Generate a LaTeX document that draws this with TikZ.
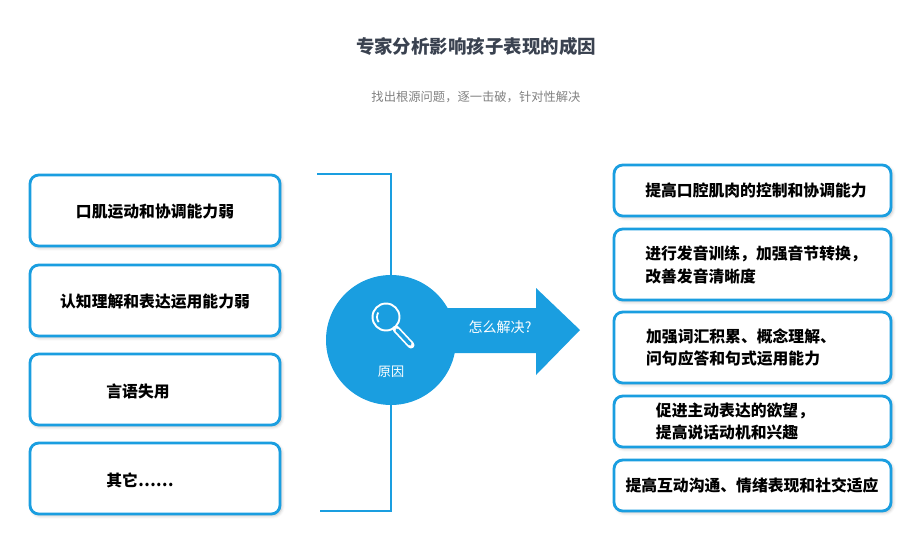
\documentclass[tikz,border=0pt]{standalone}
\usepackage{fontspec}
\newfontfamily\cjk{Noto Sans CJK SC}
\usetikzlibrary{calc,shadows.blur}
\definecolor{cyanblue}{HTML}{1A9EE0}
\definecolor{titlegray}{HTML}{3A4250}
\tikzset{
	cause/.style={draw=cyanblue, line width=1.6pt, rounded corners=5pt, fill=white,
			blur shadow={shadow blur steps=4, shadow xshift=1pt, shadow yshift=-1pt, shadow opacity=25}},
	remedy/.style={cause},
	link/.style={draw=cyanblue, line width=1.3pt}
}

\begin{document}
\begin{tikzpicture}[x=0.02cm, y=-0.02cm]
			\useasboundingbox (0,0) rectangle (900,542);

			\node[font=\cjk\bfseries\fontsize{10.5}{12}\selectfont, text=titlegray] (title) at (476,46) {专家分析影响孩子表现的成因};
			\node[font=\cjk\fontsize{7}{8}\selectfont, text=gray] (sub) at (476,97) {找出根源问题，逐一击破，针对性解决};

			% left causes
			\foreach \name/\xx/\yy/\txt in {c1/155/175/口肌运动和协调能力弱, c2/155/265/认知理解和表达运用能力弱, c3/138/354/言语失用, c4/140/443/其它……} {
				\draw[cause] (30,\yy) rectangle (280,\yy+71);
				\node[font=\cjk\bfseries\fontsize{9}{11}\selectfont] (\name) at (\xx,\yy+37) {\txt};
			}

			% right remedies
			\foreach \name/\xx/\ya/\yb/\txt in {r1/756/165/216/提高口腔肌肉的控制和协调能力,
					r2/756/229/300/{进行发音训练，加强音节转换，\\改善发音清晰度},
					r3/741/312/383/{加强词汇积累、概念理解、\\问句应答和句式运用能力},
					r4/735/396/447/{促进主动表达的欲望，\\提高说话动机和兴趣},
					r5/752/460/511/提高互动沟通、情绪表现和社交适应} {
				\draw[remedy] (614,\ya) rectangle (891,\yb);
				\node[font=\cjk\bfseries\fontsize{9}{13}\selectfont, align=left] (\name) at (\xx,{(\ya+\yb)/2}) {\txt};
			}

			% bracket
			\coordinate (btop) at (317,174);
			\coordinate (bbot) at (320,511);
			\draw[link] (btop) -- (391,174) -- (391,511) -- (bbot);

			% arrow and circle
			\fill[cyanblue] (420,308) -- (536,308) -- (536,288) -- (580,330) -- (536,375) -- (536,353) -- (420,353) -- cycle;
			\node[circle, fill=cyanblue, minimum size=2.6cm, inner sep=0pt] (why) at (391,340) {};
			\node[text=white, font=\cjk\fontsize{8}{9}\selectfont] (how) at (500,327) {怎么解决?};
			\node[text=white, font=\cjk\fontsize{7.5}{9}\selectfont] (cause) at (391,372) {原因};

			% magnifier
			\draw[white, line width=1.1pt] (386,317) circle[radius=0.27cm];
			\draw[white, line width=1pt] ([shift={(150:0.18cm)}]386,317) arc[start angle=150, end angle=215, radius=0.18cm];
			\draw[white, line width=4pt, line cap=round] (396,329) -- (411,345);
			\draw[cyanblue, line width=2pt, line cap=round] (397,330) -- (410,344);
		\end{tikzpicture}
\end{document}
